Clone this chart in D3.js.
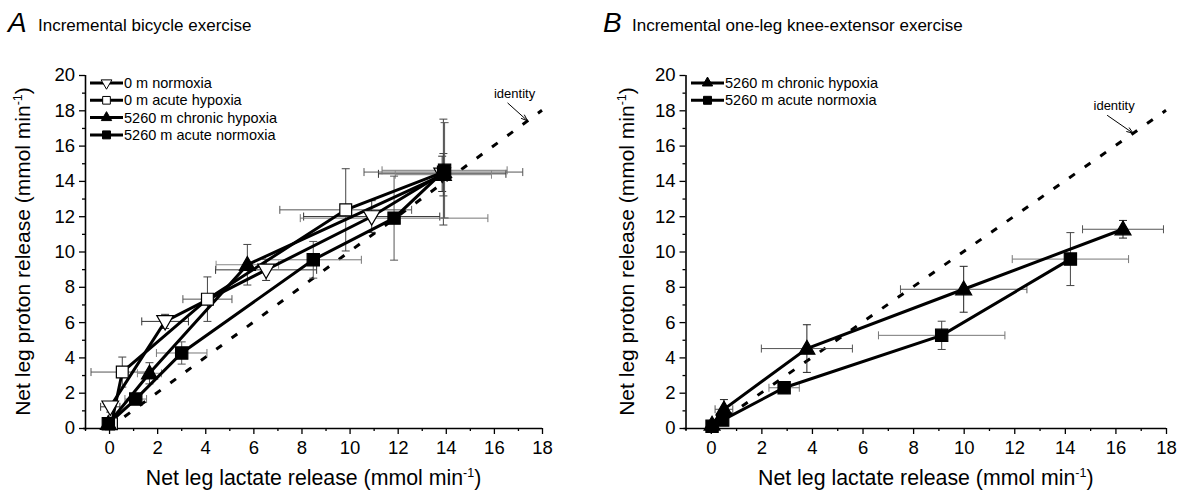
<!DOCTYPE html>
<html>
<head>
<meta charset="utf-8">
<script src="https://cdn.jsdelivr.net/npm/d3@7"></script>
<style>
  body { margin: 0; background: #fff; }
  svg { display: block; font-family: "Liberation Sans", Arial, sans-serif; }
</style>
</head>
<body>
<script>
var width = 1179,
    height = 491;

// tick values
var xMajor = [0, 2, 4, 6, 8, 10, 12, 14, 16, 18];
var xMinor = [-1, 1, 3, 5, 7, 9, 11, 13, 15, 17];
var yMajor = [0, 2, 4, 6, 8, 10, 12, 14, 16, 18, 20];
var yMinor = [1, 3, 5, 7, 9, 11, 13, 15, 17, 19];

// panel A: incremental bicycle exercise (x = lactate, y = proton, xe/ye = error)
var aNormoxia = [
  {x: 0.05, y: 1.2, xe: 0.4, ye: 0.3},
  {x: 2.33, y: 6.04, xe: 0.97, ye: 0.4},
  {x: 6.53, y: 8.96, xe: 2.1, ye: 0.6},
  {x: 10.92, y: 11.98, xe: 2.83, ye: 0.9},
  {x: 13.85, y: 14.4, xe: 2.65, ye: 1.0}
];
var aAcuteHypoxia = [
  {x: 0.1, y: 0.24, xe: 0.2, ye: 0.1},
  {x: 0.55, y: 3.17, xe: 1.3, ye: 0.85},
  {x: 4.09, y: 7.3, xe: 1.02, ye: 1.26},
  {x: 9.84, y: 12.36, xe: 2.74, ye: 2.33},
  {x: 13.9, y: 14.5, xe: 3.3, ye: 3.0}
];
var aChronicHypoxia = [
  {x: -0.03, y: 0.24, xe: 0.15, ye: 0.1},
  {x: 1.68, y: 3.1, xe: 0.5, ye: 0.6},
  {x: 5.75, y: 9.25, xe: 1.3, ye: 1.15},
  {x: 13.9, y: 14.35, xe: 2.0, ye: 1.2}
];
var aAcuteNormoxia = [
  {x: -0.03, y: 0.24, xe: 0.15, ye: 0.1},
  {x: 1.11, y: 1.64, xe: 0.45, ye: 0.3},
  {x: 3.02, y: 4.25, xe: 1.05, ye: 0.63},
  {x: 8.49, y: 9.53, xe: 2.0, ye: 1.04},
  {x: 11.85, y: 11.89, xe: 3.9, ye: 2.38},
  {x: 13.95, y: 14.6, xe: 2.6, ye: 2.7}
];

// panel B: incremental one-leg knee-extensor exercise
var bChronicHypoxia = [
  {x: 0.05, y: 0.2, xe: 0.1, ye: 0.1},
  {x: 0.52, y: 1.06, xe: 0.35, ye: 0.55},
  {x: 3.8, y: 4.5, xe: 1.8, ye: 1.35},
  {x: 10.0, y: 7.86, xe: 2.5, ye: 1.3},
  {x: 16.3, y: 11.26, xe: 1.6, ye: 0.5}
];
var bAcuteNormoxia = [
  {x: 0.05, y: 0.1, xe: 0.1, ye: 0.1},
  {x: 0.47, y: 0.45, xe: 0.2, ye: 0.2},
  {x: 2.9, y: 2.28, xe: 0.6, ye: 0.3},
  {x: 9.13, y: 5.25, xe: 2.5, ye: 0.8},
  {x: 14.22, y: 9.57, xe: 2.3, ye: 1.5}
];

var identity = [0, 18];

var svg = d3.select("body").append("svg")
    .attr("width", width)
    .attr("height", height);

var markers = {
  downOpen:  {type: d3.symbolTriangle, size: 120, rot: 180, fill: "#fff"},
  squareOpen: {type: d3.symbolSquare, size: 140, rot: 0, fill: "#fff"},
  upFilled:  {type: d3.symbolTriangle, size: 110, rot: 0, fill: "#000"},
  squareFilled: {type: d3.symbolSquare, size: 150, rot: 0, fill: "#000"}
};

let drawPanel = function(cfg) {
  const x = d3.scaleLinear().domain([-1, 18]).range(cfg.xRange);
  const y = d3.scaleLinear().domain([0, 20]).range([428, 75]);
  const g = svg.append("g");

  // axes: major + minor ticks
  g.append("g")
      .attr("transform", "translate(0,428)")
      .call(d3.axisBottom(x).tickValues(xMinor).tickSize(3).tickSizeOuter(0).tickFormat(""))
      .call(a => a.select(".domain").attr("d", `M${x(-1) - 2},0.5H${x(18)}`));
  g.append("g")
      .attr("transform", "translate(0,428)")
      .call(d3.axisBottom(x).tickValues(xMajor).tickSize(6).tickSizeOuter(0).tickPadding(7))
      .call(a => a.select(".domain").remove())
      .selectAll("text").attr("font-size", 18.5).attr("fill", "#000")
      .attr("font-family", "Liberation Sans, Arial, sans-serif");
  g.append("g")
      .attr("transform", `translate(${x(-1)},0)`)
      .call(d3.axisLeft(y).tickValues(yMinor).tickSize(3).tickSizeOuter(0).tickFormat(""))
      .call(a => a.select(".domain").attr("d", `M0.5,${y(20)}V${y(0) + 2}`));
  g.append("g")
      .attr("transform", `translate(${x(-1)},0)`)
      .call(d3.axisLeft(y).tickValues(yMajor).tickSize(6).tickSizeOuter(0).tickPadding(4))
      .call(a => a.select(".domain").remove())
      .selectAll("text").attr("font-size", 18.5).attr("fill", "#000")
      .attr("font-family", "Liberation Sans, Arial, sans-serif");
  g.selectAll(".tick line").attr("stroke", "#000").attr("stroke-width", 1.3);
  g.selectAll(".domain").attr("stroke", "#000").attr("stroke-width", 1.6);

  // identity line
  g.append("line")
      .attr("x1", x(identity[0])).attr("y1", y(identity[0]))
      .attr("x2", x(identity[1])).attr("y2", y(identity[1]))
      .attr("stroke", "#000").attr("stroke-width", 3)
      .attr("stroke-dasharray", "7,12");

  // identity label + arrow
  const ax = x(cfg.arrowTip), ay = y(cfg.arrowTip);
  const sx = ax - cfg.arrowVec[0], sy = ay - cfg.arrowVec[1];
  const ang = Math.atan2(ay - sy, ax - sx);
  g.append("line")
      .attr("x1", sx).attr("y1", sy)
      .attr("x2", ax).attr("y2", ay)
      .attr("stroke", "#000").attr("stroke-width", 1);
  g.append("path")
      .attr("d", d3.line()([
        [ax - 7 * Math.cos(ang - 0.35), ay - 7 * Math.sin(ang - 0.35)],
        [ax, ay],
        [ax - 7 * Math.cos(ang + 0.35), ay - 7 * Math.sin(ang + 0.35)]
      ]))
      .attr("fill", "none").attr("stroke", "#000").attr("stroke-width", 1);
  g.append("text")
      .attr("x", sx + 7).attr("y", sy - 5)
      .attr("text-anchor", "middle")
      .attr("font-size", 13)
      .text("identity");

  // error bars
  cfg.series.forEach(s => {
    const eb = g.append("g").attr("stroke-width", 1);
    s.data.forEach(d => {
      eb.append("line").attr("stroke", s.xErrColor)
        .attr("x1", x(d.x - d.xe)).attr("x2", x(d.x + d.xe))
        .attr("y1", y(d.y)).attr("y2", y(d.y));
      [d.x - d.xe, d.x + d.xe].forEach(v => eb.append("line").attr("stroke", s.xErrColor)
        .attr("x1", x(v)).attr("x2", x(v)).attr("y1", y(d.y) - 4).attr("y2", y(d.y) + 4));
      eb.append("line").attr("stroke", s.yErrColor)
        .attr("x1", x(d.x)).attr("x2", x(d.x))
        .attr("y1", y(d.y - d.ye)).attr("y2", y(d.y + d.ye));
      [d.y - d.ye, d.y + d.ye].forEach(v => eb.append("line").attr("stroke", s.yErrColor)
        .attr("x1", x(d.x) - 4).attr("x2", x(d.x) + 4).attr("y1", y(v)).attr("y2", y(v)));
    });
  });

  // connecting lines
  const line = d3.line().x(d => x(d.x)).y(d => y(d.y));
  cfg.series.forEach(s => {
    g.append("path").datum(s.data)
        .attr("d", line)
        .attr("fill", "none").attr("stroke", "#000").attr("stroke-width", 3);
  });

  // markers
  cfg.series.forEach(s => {
    const m = markers[s.marker];
    g.append("g").selectAll("path")
      .data(s.data)
      .join("path")
        .attr("d", d3.symbol().type(m.type).size(m.size))
        .attr("transform", d => `translate(${x(d.x)},${y(d.y) + (m.type === d3.symbolTriangle ? (m.rot ? -1 : 1) : 0)}) rotate(${m.rot})`)
        .attr("fill", m.fill).attr("stroke", "#000").attr("stroke-width", 1.2);
  });

  // legend
  const lg = g.append("g");
  cfg.series.forEach((s, i) => {
    const ly = 83 + i * 17.3;
    const m = markers[s.marker];
    lg.append("line")
        .attr("x1", cfg.legendX).attr("x2", cfg.legendX + 33)
        .attr("y1", ly).attr("y2", ly)
        .attr("stroke", "#000").attr("stroke-width", 3);
    lg.append("path")
        .attr("d", d3.symbol().type(m.type).size(m.size * 0.42))
        .attr("transform", `translate(${cfg.legendX + 16.5},${ly}) rotate(${m.rot})`)
        .attr("fill", m.fill).attr("stroke", "#000").attr("stroke-width", 1);
    lg.append("text")
        .attr("x", cfg.legendX + 34).attr("y", ly + 5)
        .attr("font-size", 14.5)
        .text(s.label);
  });

  // axis titles
  const xt = g.append("text")
      .attr("x", (cfg.xRange[0] + cfg.xRange[1]) / 2)
      .attr("y", 485)
      .attr("text-anchor", "middle")
      .attr("font-size", 21.3);
  xt.append("tspan").text("Net leg lactate release (mmol min");
  xt.append("tspan").attr("dy", -8).attr("font-size", 12.5).text("-1");
  xt.append("tspan").attr("dy", 8).text(")");

  const yt = g.append("text")
      .attr("transform", `translate(${cfg.yTitleX},${(y(0) + y(20)) / 2}) rotate(-90)`)
      .attr("text-anchor", "middle")
      .attr("font-size", 21);
  yt.append("tspan").text("Net leg proton release (mmol min");
  yt.append("tspan").attr("dy", -8).attr("font-size", 12.5).text("-1");
  yt.append("tspan").attr("dy", 8).text(")");

  // panel title
  g.append("text")
      .attr("x", cfg.titleX).attr("y", 32)
      .attr("font-size", 28).attr("font-style", "italic")
      .text(cfg.letter);
  g.append("text")
      .attr("x", cfg.titleX + cfg.subOffset).attr("y", 31)
      .attr("font-size", 17)
      .text(cfg.title);
};

drawPanel({
  letter: "A",
  title: "Incremental bicycle exercise",
  titleX: 8, subOffset: 30,
  xRange: [85, 542],
  yTitleX: 30,
  legendX: 90,
  arrowTip: 17.4,
  arrowVec: [20, 18],
  series: [
    {label: "0 m normoxia", data: aNormoxia, marker: "downOpen", xErrColor: "#333", yErrColor: "#333"},
    {label: "0 m acute hypoxia", data: aAcuteHypoxia, marker: "squareOpen", xErrColor: "#555", yErrColor: "#444"},
    {label: "5260 m chronic hypoxia", data: aChronicHypoxia, marker: "upFilled", xErrColor: "#888", yErrColor: "#444"},
    {label: "5260 m acute normoxia", data: aAcuteNormoxia, marker: "squareFilled", xErrColor: "#777", yErrColor: "#555"}
  ]
});

drawPanel({
  letter: "B",
  title: "Incremental one-leg knee-extensor exercise",
  titleX: 603, subOffset: 29,
  xRange: [685.5, 1166],
  yTitleX: 634,
  legendX: 691,
  arrowTip: 16.7,
  arrowVec: [26, 18],
  series: [
    {label: "5260 m chronic hypoxia", data: bChronicHypoxia, marker: "upFilled", xErrColor: "#555", yErrColor: "#222"},
    {label: "5260 m acute normoxia", data: bAcuteNormoxia, marker: "squareFilled", xErrColor: "#777", yErrColor: "#444"}
  ]
});
</script>
</body>
</html>
